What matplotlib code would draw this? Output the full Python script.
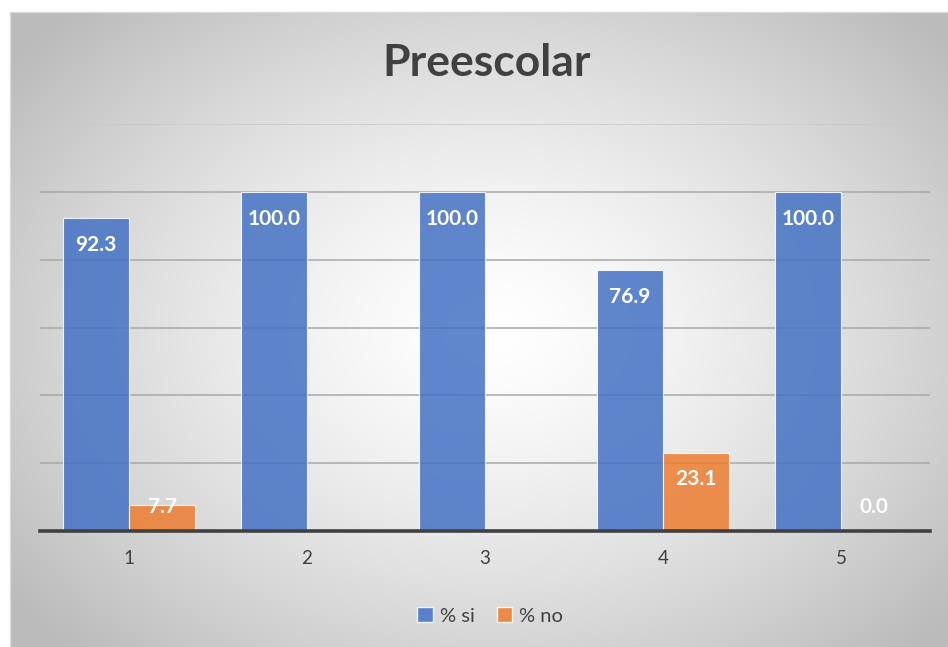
import numpy as np
import matplotlib
matplotlib.use("Agg")
import matplotlib.pyplot as plt
from matplotlib.patches import Patch

categories = ["1", "2", "3", "4", "5"]
si_values = [92.3, 100.0, 100.0, 76.9, 100.0]
no_values = [7.7, np.nan, np.nan, 23.1, 0.0]
series_names = ["% si", "% no"]
title = "Preescolar"

W, H = 948, 647
fig = plt.figure(figsize=(W / 100, H / 100), dpi=100)
fig.patch.set_facecolor("white")

# background radial gradient in chart area
bg = fig.add_axes([0, 0, 1, 1], zorder=0)
bg.set_xlim(0, W)
bg.set_ylim(H, 0)
bg.axis("off")
yy, xx = np.mgrid[0:H, 0:W]
cx, cy = 490, 330
r = np.sqrt(((xx - cx) / 540.0) ** 2 + ((yy - cy) / 400.0) ** 2)
r = np.clip(r, 0, 1.1)
v = 1.0 - 0.23 * r ** 1.4
img = np.dstack([v, v, v])
x0, y0 = 10, 12
mask = (xx < x0) | (yy < y0)
img[mask] = 1.0
bg.imshow(img, extent=(0, W, H, 0), interpolation="bilinear", aspect="auto")
bg.plot([x0, x0], [y0, H], color="#d9d9d9", lw=1)
bg.plot([x0, W], [y0, y0], color="#d9d9d9", lw=1)

ax = fig.add_axes([40 / W, (H - 531) / H, 890 / W, (531 - 124) / H], zorder=1)
ax.patch.set_alpha(0)
ax.set_xlim(-0.5, 4.5)
ax.set_ylim(0, 120)
for s in ["top", "right", "left"]:
    ax.spines[s].set_visible(False)
ax.spines["bottom"].set_color("#404040")
ax.spines["bottom"].set_linewidth(2.6)
ax.spines["bottom"].set_zorder(5)
ax.set_yticks([20, 40, 60, 80, 100, 120])
ax.yaxis.grid(True, color="#a8a8a8", lw=1.1)
ax.get_ygridlines()[-1].set_color("#c8c8c8")
ax.set_axisbelow(True)
ax.tick_params(axis="y", left=False, labelleft=False)
ax.tick_params(axis="x", length=0, pad=14, labelsize=13.5, labelcolor="#404040")
x = np.arange(len(categories))
ax.set_xticks(x)
ax.set_xticklabels(categories, fontfamily="Lato")

bw = 0.372
blue = "#4472C4"
orange = "#ED7D31"
ax.bar(x - bw / 2, si_values, bw, color=blue, alpha=0.85, edgecolor=(1, 1, 1, 0.6), lw=0.8, zorder=3)
ax.bar(x + bw / 2, no_values, bw, color=orange, alpha=0.85, edgecolor=(1, 1, 1, 0.6), lw=0.8, zorder=3)

for xs, vals in [(x - bw / 2, si_values), (x + bw / 2, no_values)]:
    for xi, vi in zip(xs, vals):
        if np.isnan(vi):
            continue
        ly = max(vi - 7.9, 7.0)
        ax.text(xi, ly, f"{vi:.1f}", ha="center", va="center", color="white",
                fontsize=15, fontweight="bold", fontfamily="Lato", zorder=6)

fig.text(487 / W, 1 - 63 / H, title, ha="center", va="center", fontsize=32,
         fontweight="bold", color="#404040", fontfamily="Lato")

handles = [Patch(facecolor=blue, alpha=0.85, edgecolor=(1, 1, 1, 0.6)),
           Patch(facecolor=orange, alpha=0.85, edgecolor=(1, 1, 1, 0.6))]
leg = fig.legend(handles, series_names, loc="center", bbox_to_anchor=(490 / W, 1 - 616 / H),
                 ncol=2, frameon=False, prop={"family": "Lato", "size": 14.5},
                 handlelength=0.75, handleheight=0.75, handletextpad=0.35, columnspacing=1.1)
for t in leg.get_texts():
    t.set_color("#404040")

fig.savefig("out.png", dpi=100)
